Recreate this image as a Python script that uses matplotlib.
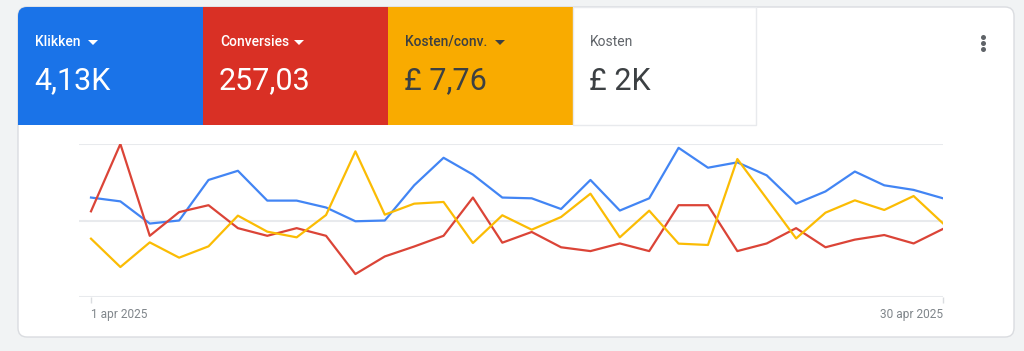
import matplotlib.pyplot as plt
from matplotlib.patches import FancyBboxPatch, Rectangle, Polygon

plt.rcParams['font.family'] = ['Roboto', 'DejaVu Sans']

# daily values, 1-30 april 2025
days = list(range(1, 31))
klikken = [130, 125, 96, 100, 153, 165, 126, 126, 117, 99,
           100, 146, 182, 160, 130, 129, 115, 153, 113, 129,
           195, 169, 176, 159, 122, 138, 164, 146, 140, 129]
conversies = [11.2, 20.0, 8.0, 11.1, 12.0, 9.0, 8.0, 9.0, 8.0, 3.0,
              5.3, 6.6, 8.0, 13.0, 7.1, 8.5, 6.5, 6.0, 7.0, 6.0,
              12.0, 12.0, 6.0, 7.0, 9.0, 6.5, 7.5, 8.1, 7.0, 8.9]
kosten_conv = [6.48, 3.33, 6.07, 4.37, 5.63, 9.04, 7.26, 6.63, 9.11, 16.18,
               9.15, 10.37, 10.56, 6.00, 9.08, 7.48, 8.89, 11.48, 6.63, 9.59,
               5.93, 5.78, 15.33, 10.93, 6.51, 9.37, 10.74, 9.67, 11.22, 8.18]

tile_labels = ['Klikken', 'Conversies', 'Kosten/conv.', 'Kosten']
tile_values = ['4,13K', '257,03', '£ 7,76', '£ 2K']
tick_labels = ['1 apr 2025', '30 apr 2025']

W, H = 1024, 351
fig = plt.figure(figsize=(W / 100, H / 100), dpi=100)
fig.patch.set_facecolor('#f1f3f4')

# background layer in pixel coordinates
bg = fig.add_axes([0, 0, 1, 1])
bg.set_xlim(0, W)
bg.set_ylim(H, 0)
bg.axis('off')

card = FancyBboxPatch((18, 7), 996, 330, boxstyle='round,pad=0,rounding_size=9',
                      fc='white', ec='#dadce0', lw=1)
bg.add_patch(card)

tile_colors = ['#1a73e8', '#d93025', '#f9ab00', 'white']
text_colors = ['white', 'white', '#3c4043', '#5f6368']
value_colors = ['white', 'white', '#3c4043', '#3c4043']
tile_x = [18, 203, 388, 573]
tile_w = [185, 185, 185, 183]
arrow_x = [93, 299, 500, None]
for i in range(4):
    r = Rectangle((tile_x[i], 7), tile_w[i], 118, fc=tile_colors[i],
                  ec='#e8eaed' if i == 3 else 'none', lw=1)
    bg.add_patch(r)
    r.set_clip_path(card)
    bg.text(tile_x[i] + 17, 42, tile_labels[i], color=text_colors[i], fontsize=10,
            fontweight='medium' if i < 3 else 'normal', va='center', ha='left')
    bg.text(tile_x[i] + 16, 81, tile_values[i], color=value_colors[i], fontsize=22,
            va='center', ha='left')
    if arrow_x[i] is not None:
        ax0 = arrow_x[i]
        bg.add_patch(Polygon([(ax0 - 5, 40), (ax0 + 5, 40), (ax0, 45)],
                             closed=True, fc=text_colors[i], ec='none'))

# three-dot menu
for yy in (37, 43, 49):
    bg.plot(983, yy, 'o', ms=3.6, color='#5f6368', mec='none')

# chart area
x_left, x_right, y_top, y_bot = 79, 943, 144, 297
ax = fig.add_axes([x_left / W, 1 - y_bot / H, (x_right - x_left) / W, (y_bot - y_top) / H])
ax.patch.set_alpha(0)
step = (943 - 91) / 29
ax.set_xlim(1 - (91 - x_left) / step, 30)
ax.set_ylim(0, 200)
for s in ax.spines.values():
    s.set_visible(False)
ax.set_yticks([])
for g in (0, 100, 200):
    ax.axhline(g, color='#e8eaed', lw=1.5, zorder=0)

ax.set_xticks([1, 30])
ax.set_xticklabels(tick_labels, fontsize=8.6, color='#80868b')
ax.tick_params(axis='x', length=4.5, width=1, color='#dadce0', pad=3.5)
lbls = ax.get_xticklabels()
lbls[0].set_ha('left')
lbls[1].set_ha('right')

ax.plot(days, klikken, color='#4285f4', lw=1.6, zorder=3)

ax_r = ax.twinx()
ax_r.set_ylim(0, 20)
ax_r.plot(days, conversies, color='#db4437', lw=1.6)

ax_y = ax.twinx()
ax_y.set_ylim(0, 17)
ax_y.plot(days, kosten_conv, color='#fbbc04', lw=1.6)

for a in (ax_r, ax_y):
    a.axis('off')
    a.set_xlim(ax.get_xlim())

fig.savefig('out.png', dpi=100, facecolor=fig.get_facecolor())
